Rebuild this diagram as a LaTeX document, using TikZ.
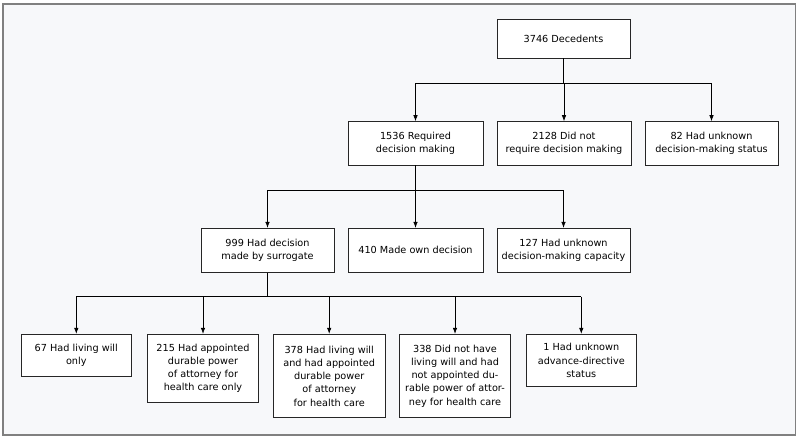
\documentclass[tikz,border=0pt]{standalone}
\usepackage{fontspec}
\setmainfont{DejaVu Sans}
\usetikzlibrary{arrows.meta}
\definecolor{bgc}{HTML}{F7F8FA}
\definecolor{framec}{HTML}{808080}
\begin{document}
\begin{tikzpicture}[x=1pt,y=-1pt,
  box/.style={draw=black!85, line width=0.9pt, fill=white, align=center, inner sep=0pt,
    font=\fontsize{9.7}{13.3}\selectfont},
  arr/.style={-{Latex[length=6pt,width=4.5pt]}, line width=0.7pt},
  link/.style={line width=0.7pt}]
\path[use as bounding box] (0,0) rectangle (800,440);
\draw[fill=bgc, draw=framec, line width=1.2pt] (3,4) rectangle (795.5,435);

\node[box, minimum width=133pt, minimum height=39pt] (top) at (563.5,38.5) {3746 Decedents};

\node[box, minimum width=135pt, minimum height=43.3pt] (b1) at (415.5,143.3) {1536 Required\\decision making};
\node[box, minimum width=134pt, minimum height=43.3pt] (b2) at (564,143.3) {2128 Did not\\require decision making};
\node[box, minimum width=133pt, minimum height=43.3pt] (b3) at (711.5,143.3) {82 Had unknown\\decision-making status};

\node[box, minimum width=133pt, minimum height=44pt] (cA) at (267.5,250.3) {999 Had decision\\made by surrogate};
\node[box, minimum width=135pt, minimum height=44pt] (cB) at (415.5,250.3) {410 Made own decision};
\node[box, minimum width=133pt, minimum height=44pt] (cC) at (563.5,250.3) {127 Had unknown\\decision-making capacity};

\node[box, minimum width=110.7pt, minimum height=42.4pt] (d1) at (76.3,355.5) {67 Had living will\\only};
\node[box, minimum width=110.6pt, minimum height=68pt] (d2) at (203,368.3) {215 Had appointed\\durable power\\of attorney for\\health care only};
\node[box, minimum width=111.7pt, minimum height=83.4pt] (d3) at (329.2,376) {378 Had living will\\and had appointed\\durable power\\of attorney\\for health care};
\node[box, minimum width=111.4pt, minimum height=83.4pt] (d4) at (455,376) {338 Did not have\\living will and had\\not appointed du-\\rable power of attor-\\ney for health care};
\node[box, minimum width=110.7pt, minimum height=52.4pt] (d5) at (581.3,360.5) {1 Had unknown\\advance-directive\\status};

\coordinate (j1) at (563.5,83);
\draw[link] (top.south) -- (j1);
\draw[link] (j1 -| b1) -- (j1 -| b3);
\foreach \n in {b1,b2,b3} \draw[arr] (j1 -| \n) -- (\n.north);

\coordinate (j2) at (415.5,190);
\draw[link] (b1.south) -- (j2);
\draw[link] (j2 -| cA) -- (j2 -| cC);
\foreach \n in {cA,cB,cC} \draw[arr] (j2 -| \n) -- (\n.north);

\coordinate (j3) at (267.5,296.7);
\draw[link] (cA.south) -- (j3);
\draw[link] (j3 -| d1) -- (j3 -| d5);
\foreach \n in {d1,d2,d3,d4,d5} \draw[arr] (j3 -| \n) -- (\n.north);
\end{tikzpicture}
\end{document}
